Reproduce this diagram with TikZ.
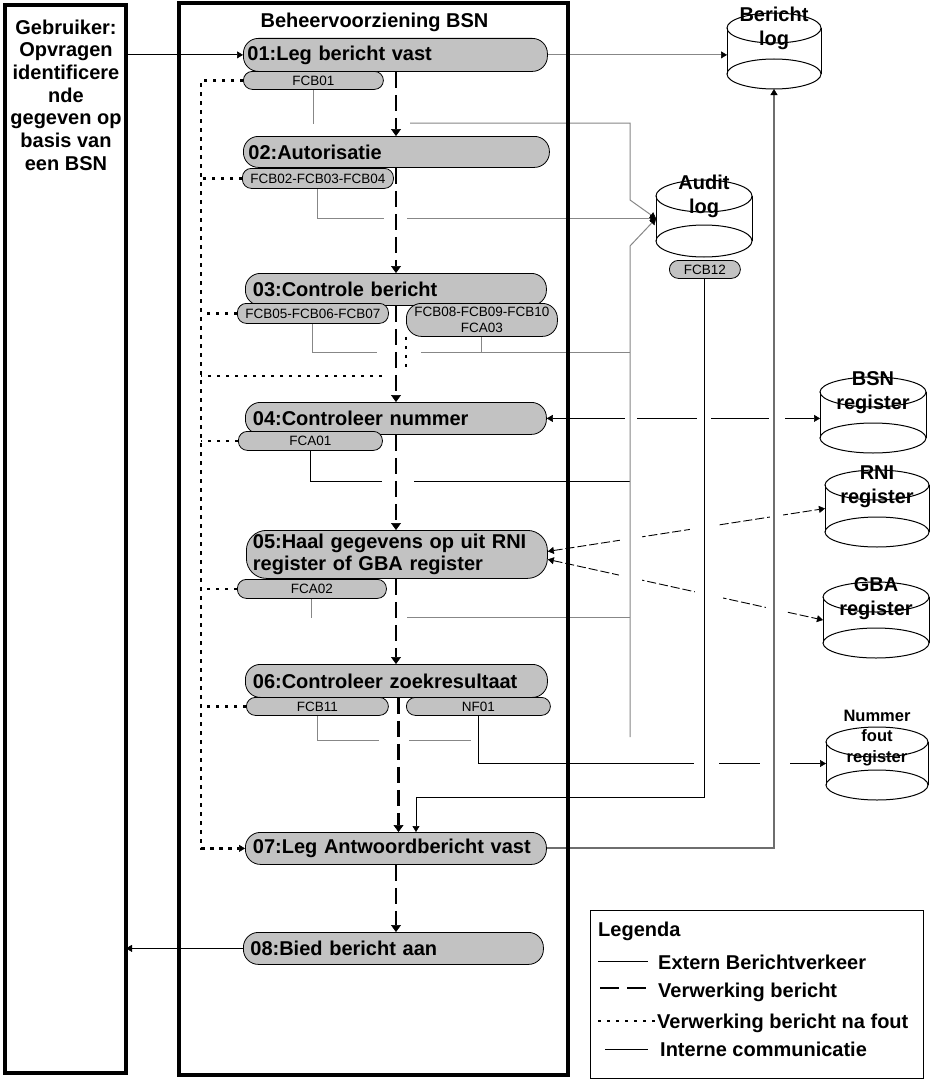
\documentclass[tikz,border=0pt]{standalone}
\usepackage{fontspec}
\setmainfont{Liberation Sans}
\usetikzlibrary{arrows.meta,backgrounds,calc}
\definecolor{boxgray}{RGB}{194,194,194}
\definecolor{intgray}{RGB}{135,135,135}
\definecolor{vgray}{RGB}{110,110,110}
\newcommand{\drum}[6]{%
  \node[inner sep=0pt, outer sep=0pt, minimum width={2*#5pt}, minimum height={(#4-#3+2*#6)*1pt}] (#1) at (#2,{(#3+#4)/2}) {};
  \draw[drumline] (#2,#3) ellipse [x radius=#5pt, y radius=#6pt];
  \draw[drumline] (#2,#4) ellipse [x radius=#5pt, y radius=#6pt];
  \draw[drumline] ({#2-#5},#3) -- ({#2-#5},#4) ({#2+#5},#3) -- ({#2+#5},#4);
}
\tikzset{
  stepbox/.style={draw=black, line width=0.8pt, fill=boxgray, rounded corners=15pt, anchor=north west, inner ysep=0pt, align=left, font=\fontsize{20}{22.5}\selectfont\bfseries},
  lblbox/.style={draw=black, line width=0.8pt, fill=boxgray, rounded corners=9pt, anchor=north west, inner sep=0pt, align=center, font=\fontsize{13.5}{16}\selectfont},
  bigtext/.style={align=center, inner sep=0pt, font=\fontsize{20}{24}\selectfont\bfseries},
  legtext/.style={anchor=base west, inner sep=0pt, font=\fontsize{20}{24}\selectfont\bfseries},
  bigframe/.style={draw=black, line width=4.5pt, inner sep=0pt, outer sep=0pt, anchor=north west},
  drumline/.style={draw=black, line width=1pt},
  arr/.style={-{Triangle[width=7pt,length=6pt,line width=0.5pt]}},
  arrk/.style={-{Triangle[width=7pt,length=6pt,line width=0.5pt,color=black]}},
  arrb/.style={-{Triangle[width=10pt,length=7pt,line width=0.5pt]}},
  arr2/.style={{Triangle[width=7pt,length=6pt,line width=0.5pt]}-{Triangle[width=7pt,length=6pt,line width=0.5pt]}},
  extl/.style={draw=black, line width=1pt},
  extdl/.style={draw=black, line width=0.9pt, dash pattern=on 9pt off 3pt},
  intl/.style={draw=intgray, line width=1pt},
  dkl/.style={draw=black, line width=1pt},
  vgl/.style={draw=vgray, line width=2pt},
  flowl/.style={draw=black, line width=2.7pt, dash pattern=on 16pt off 7pt},
  errl/.style={draw=black, line width=2.5pt, dash pattern=on 3.5pt off 5.5pt},
}
\begin{document}
\begin{tikzpicture}[x=1pt,y=-1pt]
\useasboundingbox (0,0) rectangle (931,1081);

% frames
\node[bigframe, minimum width=121pt, minimum height=1068pt] (user) at (5,5) {};
\node[bigframe, minimum width=389pt, minimum height=1072pt] (beheer) at (179,3) {};
\node[bigtext, font=\fontsize{20}{22.7}\selectfont\bfseries] (usertext) at (66,95) {Gebruiker:\\Opvragen\\identificere\\nde\\gegeven op\\basis van\\een BSN};
\node[bigtext] (title) at (374.5,22) {Beheervoorziening BSN};

% steps
\node[stepbox, inner xsep=4pt, text width=296pt, minimum height=33pt] (n01) at (243,38) {01:Leg bericht vast};
\node[stepbox, inner xsep=5pt, text width=296pt, minimum height=31pt] (n02) at (243,136) {02:Autorisatie};
\node[stepbox, inner xsep=7.5pt, text width=286pt, minimum height=32pt] (n03) at (245,273) {03:Controle bericht};
\node[stepbox, inner xsep=7.5pt, text width=286pt, minimum height=32pt] (n04) at (245,402) {04:Controleer nummer};
\node[stepbox, inner xsep=6.5pt, text width=288pt, minimum height=48pt, rounded corners=20pt] (n05) at (246,530) {05:Haal gegevens op uit RNI\\register of GBA register};
\node[stepbox, inner xsep=7.5pt, text width=287pt, minimum height=33pt] (n06) at (245,664) {06:Controleer zoekresultaat};
\node[stepbox, inner xsep=7.5pt, text width=286pt, minimum height=32pt] (n07) at (245,832) {07:Leg Antwoordbericht vast};
\node[stepbox, inner xsep=7pt, text width=286pt, minimum height=32pt] (n08) at (243,932) {08:Bied bericht aan};

% labels
\node[lblbox, minimum width=140pt, minimum height=18pt] (fcb01) at (243,71) {FCB01};
\node[lblbox, minimum width=151pt, minimum height=20pt] (fcb02) at (242,168) {FCB02-FCB03-FCB04};
\node[lblbox, minimum width=151pt, minimum height=20pt] (fcb05) at (237,303) {FCB05-FCB06-FCB07};
\node[lblbox, minimum width=151pt, minimum height=33pt, rounded corners=15pt] (fcb08) at (406,303) {FCB08-FCB09-FCB10\\FCA03};
\node[lblbox, minimum width=144pt, minimum height=19pt] (fca01) at (238,431) {FCA01};
\node[lblbox, minimum width=149pt, minimum height=19pt] (fca02) at (237,579) {FCA02};
\node[lblbox, minimum width=142pt, minimum height=18pt] (fcb11) at (246,697) {FCB11};
\node[lblbox, minimum width=144pt, minimum height=18pt] (nf01) at (406,697) {NF01};
\node[lblbox, minimum width=71pt, minimum height=18pt] (fcb12) at (669,260) {FCB12};

% data stores
\drum{blog}{774}{28}{74}{47}{15}
\drum{alog}{704}{196}{241}{48}{16}
\drum{bsn}{873}{392}{438}{53}{15}
\drum{rni}{877}{485}{532}{52}{15}
\drum{gba}{876}{597}{643}{53}{15}
\drum{nfr}{877}{742}{785}{51}{15}
\node[bigtext] (blogt) at (774,28) {Bericht\\log};
\node[bigtext] (alogt) at (704,196) {Audit\\log};
\node[bigtext] (bsnt) at (873,393) {BSN\\register};
\node[bigtext] (rnit) at (877,487) {RNI\\register};
\node[bigtext] (gbat) at (876,599) {GBA\\register};
\node[bigtext, font=\fontsize{16.5}{20.5}\selectfont\bfseries] (nfrt) at (877,738) {Nummer\\fout\\register};

% legend
\node[draw=black, line width=1pt, inner sep=0pt, anchor=north west, minimum width=333pt, minimum height=168pt] (legend) at (590,910) {};
\node[legtext] (lg0) at (598,936) {Legenda};
\node[legtext] (lg1) at (658,969) {Extern Berichtverkeer};
\node[legtext] (lg2) at (658,997) {Verwerking bericht};
\node[legtext] (lg3) at (657,1028) {Verwerking bericht na fout};
\node[legtext] (lg4) at (660,1056) {Interne communicatie};
\draw[extl] (598,961) -- (648,961);
\draw[black, line width=2.7pt, dash pattern=on 19pt off 8pt] (600,988) -- (646,988);
\draw[black, line width=1.4pt, dash pattern=on 3pt off 6pt] (598,1021) -- (655,1021);
\draw[extl] (605,1049) -- (648,1049);

\begin{pgfonlayer}{background}
\fill[white] (0,0) rectangle (931,1081);
\coordinate (fx) at (396,0);
\coordinate (fx2) at (398.5,0);
\coordinate (ex) at (201,0);
\coordinate (ey) at (0,376);
\coordinate (vx) at (630,0);
\coordinate (i1) at (410,123);
\coordinate (b1) at (630,200);
\coordinate (i2) at (630,737);
\coordinate (b2) at (630,246);
\coordinate (j3) at (630,352);
\coordinate (j4) at (630,481);
\coordinate (j5a) at (407,617.5);
\coordinate (j5) at (630,617.5);
\coordinate (j6) at (471,740);
\coordinate (f12) at (416,797);

% lines passing under others
\draw[extl,arr] (user.east |- n01.west) -- (n01.west);
\draw[extl,arr] (n08.west) -- (n08.west -| user.east);
\draw[intl,arrk] (n01.east) -- (n01.east -| blog.west);
\draw[intl] (fcb01.south) -- ++(0,34);
\draw[intl,arrk] (i1) -- (vx |- i1) -- (b1) -- (alog.west);
\draw[intl,arrk] (fcb02.south) |- (alog.west);
\draw[intl] (fcb05.south) |- (j3);
\draw[intl] (fcb08.south) -- (fcb08.south |- j3);
\draw[extl] (fca01.south) |- (j4);
\draw[intl] (fca02.south) -- ++(0,19);
\draw[intl] (j5a) -- (j5);
\draw[intl] (fcb11.south) |- (j6);
\draw[extl,arr2] (n04.east) -- (n04.east -| bsn.west);
\draw[extdl,arr2] ($(n05.east)+(0,-3)$) -- (rni.west);
\draw[extdl,arr2] ($(n05.east)+(0,5)$) -- (gba.west);
\draw[extl,arr] (nf01.south) |- (nfr.west);

% line jumps
\fill[white] (384,216) rectangle (407,222);
\fill[white] (377,349) rectangle (421,355);
\fill[white] (382,478) rectangle (414,484);
\fill[white] (379,737) rectangle (409,743);
\fill[white] (625,414) rectangle (637,422);
\fill[white] (697,414) rectangle (711,422);
\fill[white] (769,414) rectangle (785,422);
\fill[white] (620,531) rectangle (642,546);
\fill[white] (690,520) rectangle (718,534);
\fill[white] (770,508) rectangle (783,522);
\fill[white] (619,570) rectangle (642,585);
\fill[white] (695,586) rectangle (723,602);
\fill[white] (766,602) rectangle (786,618);
\fill[white] (694,759) rectangle (719,767);
\fill[white] (760,759) rectangle (790,767);

% vertical lines on top
\draw[intl,arrk] (i2) -- (b2) -- (alog.west);
\draw[dkl,arr] (fcb12.south) |- (f12) -- (f12 |- n07.north);
\draw[vgl,arrk] (n07.east) -| (blog.south);

% error paths
\draw[errl,arr] (fcb01.west) -| (ex |- n07.west) -- (n07.west);
\draw[errl] (fcb02.west) -- (fcb02.west -| ex);
\draw[errl] (fcb05.west) -- (fcb05.west -| ex);
\draw[errl] (fca01.west) -- (fca01.west -| ex);
\draw[errl] (fca02.west) -- (fca02.west -| ex);
\draw[errl] (fcb11.west) -- (fcb11.west -| ex);
\draw[errl] (fcb08.south west) -- (fcb08.south west |- ey) -- (ex |- ey);
\fill[white] (385,372) rectangle (410,380);

% processing flow
\draw[flowl,arrb] (n01.south -| fx) -- (n02.north -| fx);
\draw[flowl,arrb] (n02.south -| fx) -- (n03.north -| fx);
\draw[flowl,arrb] (n03.south -| fx) -- (n04.north -| fx);
\draw[flowl,arrb] (n04.south -| fx) -- (n05.north -| fx);
\draw[flowl,arrb] (n05.south -| fx) -- (n06.north -| fx);
\draw[flowl,arrb] (n06.south -| fx2) -- (n07.north -| fx2);
\draw[flowl,arrb] (n07.south -| fx) -- (n08.north -| fx);
\end{pgfonlayer}
\end{tikzpicture}
\end{document}
